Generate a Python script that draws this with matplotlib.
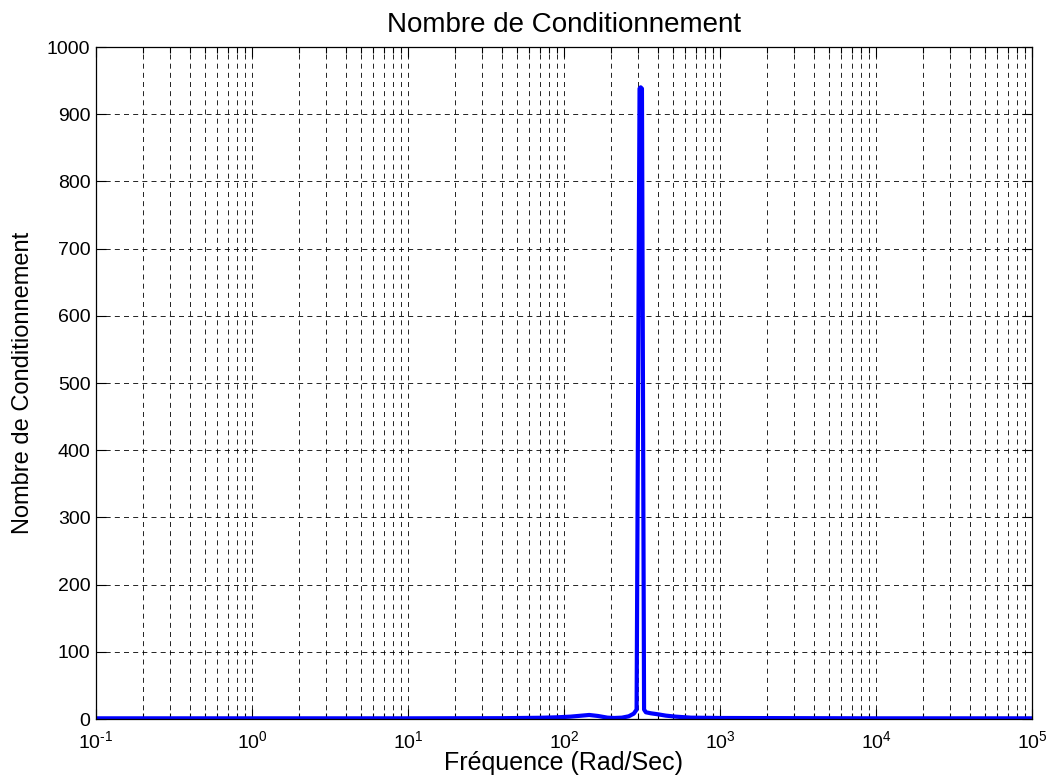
import matplotlib
matplotlib.use("Agg")
import matplotlib.pyplot as plt
from matplotlib.ticker import LogLocator, FuncFormatter, MultipleLocator, NullFormatter
import math

plt.rcParams['font.family'] = ['Liberation Sans', 'DejaVu Sans']
plt.rcParams['mathtext.fontset'] = 'custom'
plt.rcParams['mathtext.rm'] = 'Liberation Sans'
plt.rcParams['mathtext.it'] = 'Liberation Sans'
plt.rcParams['axes.unicode_minus'] = False

# Data
freq = [0.1, 1, 10, 40, 70, 90, 110, 130, 145, 165, 190, 210, 235, 260, 280, 292,
        305, 310, 316, 326, 335, 360, 400, 450, 520, 650, 1000, 1e4, 1e5]
cond = [1, 1, 1, 1.2, 1.8, 2.5, 3.5, 5, 6, 4.5, 2, 1.5, 2, 4, 8, 14,
        938, 940, 938, 14, 10, 8.5, 7, 5, 3.5, 2, 1.5, 1, 1]

title = "Nombre de Conditionnement"
xlabel = "Fréquence (Rad/Sec)"
ylabel = "Nombre de Conditionnement"

fig = plt.figure(figsize=(10.5, 7.83), dpi=100)
ax = fig.add_axes([96/1050, 1-719/783, (1032-96)/1050, (719-47)/783])

ax.plot(freq, cond, color='#0000ff', lw=3.0, solid_joinstyle='round', solid_capstyle='round')
ax.set_xscale('log')
ax.set_xlim(0.1, 1e5)
ax.set_ylim(0, 1000)
ax.yaxis.set_major_locator(MultipleLocator(100))
ax.xaxis.set_major_locator(LogLocator(base=10, numticks=20))
ax.xaxis.set_minor_locator(LogLocator(base=10, subs=range(2, 10), numticks=20))


def fmt(v, pos):
    e = int(round(math.log10(v)))
    return r'$\mathregular{10^{%s}}$' % ('\u2010' + str(-e) if e < 0 else str(e))


ax.xaxis.set_major_formatter(FuncFormatter(fmt))
ax.xaxis.set_minor_formatter(NullFormatter())

grid_kw = dict(color='black', lw=0.6, linestyle=(0, (6, 5)))
ax.grid(True, which='major', axis='both', **grid_kw)
ax.grid(True, which='minor', axis='x', **grid_kw)

ax.tick_params(which='both', direction='in', top=True, right=True, labelsize=14, width=0.8)
ax.tick_params(which='major', length=7)
ax.tick_params(which='minor', length=4)
ax.tick_params(axis='x', pad=8)
ax.tick_params(axis='y', pad=4)
for s in ax.spines.values():
    s.set_linewidth(0.9)

ax.set_title(title, fontsize=20, pad=11)
ax.set_xlabel(xlabel, fontsize=18, labelpad=-1)
ax.set_ylabel(ylabel, fontsize=17, labelpad=9)

fig.savefig("out.png", dpi=100)
